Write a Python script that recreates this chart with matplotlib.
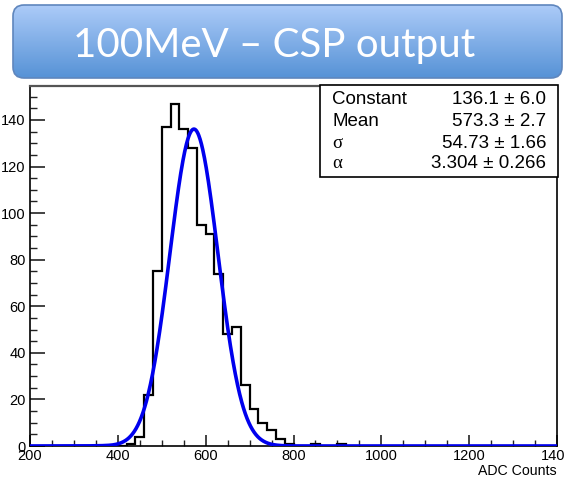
import numpy as np
import matplotlib
matplotlib.use("Agg")
import matplotlib.pyplot as plt
from matplotlib.patches import FancyBboxPatch, Rectangle

# ---------------- data ----------------
title = "100MeV \u2013 CSP output"
x_label = "ADC Counts"
bin_start = 200
bin_width = 20
counts = [0] * 11 + [1, 4, 22, 75, 137, 147, 136, 128, 95, 91, 74, 48, 51, 26, 16, 10, 7, 3, 1,
                     0, 0, 1, 0, 0, 1] + [0] * 24
fit_constant = 136.1
fit_mean = 573.3
fit_sigma = 54.73
fit_alpha = 3.304
fit_n = 3.0  # fixed tail exponent (not displayed)
stat_names = ["Constant", "Mean", "\u03c3", "\u03b1"]
stat_values = ["136.1 \u00b1 6.0", "573.3 \u00b1 2.7", "54.73 \u00b1 1.66", "3.304 \u00b1 0.266"]
x_ticks = [200, 400, 600, 800, 1000, 1200, 1400]
y_ticks = [0, 20, 40, 60, 80, 100, 120, 140]

W, H = 564, 480
fig = plt.figure(figsize=(W / 100, H / 100), dpi=100)

# ---------------- main axes ----------------
ax = fig.add_axes([30 / W, 1 - 446 / H, (557 - 30) / W, (446 - 86) / H])
edges = bin_start + bin_width * np.arange(len(counts) + 1)
ax.stairs(counts, edges, color="black", lw=1.6, zorder=3)


def crystal_ball(x, c, m, s, a, n):
    t = (x - m) / s
    A = (n / abs(a)) ** n * np.exp(-a * a / 2)
    B = n / abs(a) - abs(a)
    out = np.where(t > -a, np.exp(-t * t / 2), A * np.abs(B - t) ** (-n))
    return c * out


xf = np.linspace(edges[0], edges[-1], 1200)
ax.plot(xf, crystal_ball(xf, fit_constant, fit_mean, fit_sigma, fit_alpha, fit_n),
        color="#0000ee", lw=2.6, zorder=4, solid_capstyle="round")

ax.set_xlim(200, 1400)
ax.set_ylim(0, 154.6)
ax.set_xticks(x_ticks)
ax.set_xticks(np.arange(200, 1401, 50), minor=True)
ax.set_yticks(y_ticks)
ax.set_yticks(np.arange(0, 155, 5), minor=True)
ax.tick_params(axis="both", which="both", direction="in", color="#222222",
               labelsize=10.5, labelfontfamily="Liberation Sans")
ax.tick_params(axis="y", which="major", length=10.8, width=1.2, pad=3)
ax.tick_params(axis="y", which="minor", length=5, width=1.0)
ax.tick_params(axis="x", which="major", length=8, width=1.2, pad=2.5)
ax.tick_params(axis="x", which="minor", length=4, width=1.0)
for s in ax.spines.values():
    s.set_linewidth(1.2)
    s.set_color("black")
ax.spines["top"].set_color("#555555")
ax.spines["top"].set_linewidth(1.6)

# ---------------- overlay (pixel coords) ----------------
ov = fig.add_axes([0, 0, 1, 1])
ov.set_xlim(0, W)
ov.set_ylim(H, 0)
ov.axis("off")

box = FancyBboxPatch((13, 5), 549, 73, boxstyle="round,pad=0,rounding_size=11",
                     facecolor="none", edgecolor="#5f86bd", lw=1.2, zorder=2)
ov.add_patch(box)
grad = np.linspace(0, 1, 256)[:, None]
top_c = np.array([172, 203, 248]) / 255
bot_c = np.array([86, 146, 214]) / 255
img = top_c[None, None, :] * (1 - grad[:, :, None]) + bot_c[None, None, :] * grad[:, :, None]
im = ov.imshow(img, extent=(13, 562, 78, 5), aspect="auto", zorder=1)
im.set_clip_path(box)
ov.text(274, 45, title, color="white", fontsize=29, family="Lato", fontweight="normal",
        ha="center", va="center", zorder=3)

# stats box
ov.add_patch(Rectangle((320, 85), 238, 92, facecolor="white", edgecolor="black", lw=1.2, zorder=5))
row_y = [100, 121, 143, 164]
for name, val, yy in zip(stat_names, stat_values, row_y):
    fam = "Liberation Serif" if name in ("\u03c3", "\u03b1") else "Liberation Sans"
    ov.text(332, yy, name, fontsize=13.5, family=fam, ha="left", va="center", zorder=6)
    ov.text(546, yy, val, fontsize=13.5, family="Liberation Sans", ha="right", va="center", zorder=6)

ov.text(557, 471, x_label, fontsize=10.2, family="Liberation Sans", ha="right", va="center")

fig.savefig("out.png", dpi=100)
